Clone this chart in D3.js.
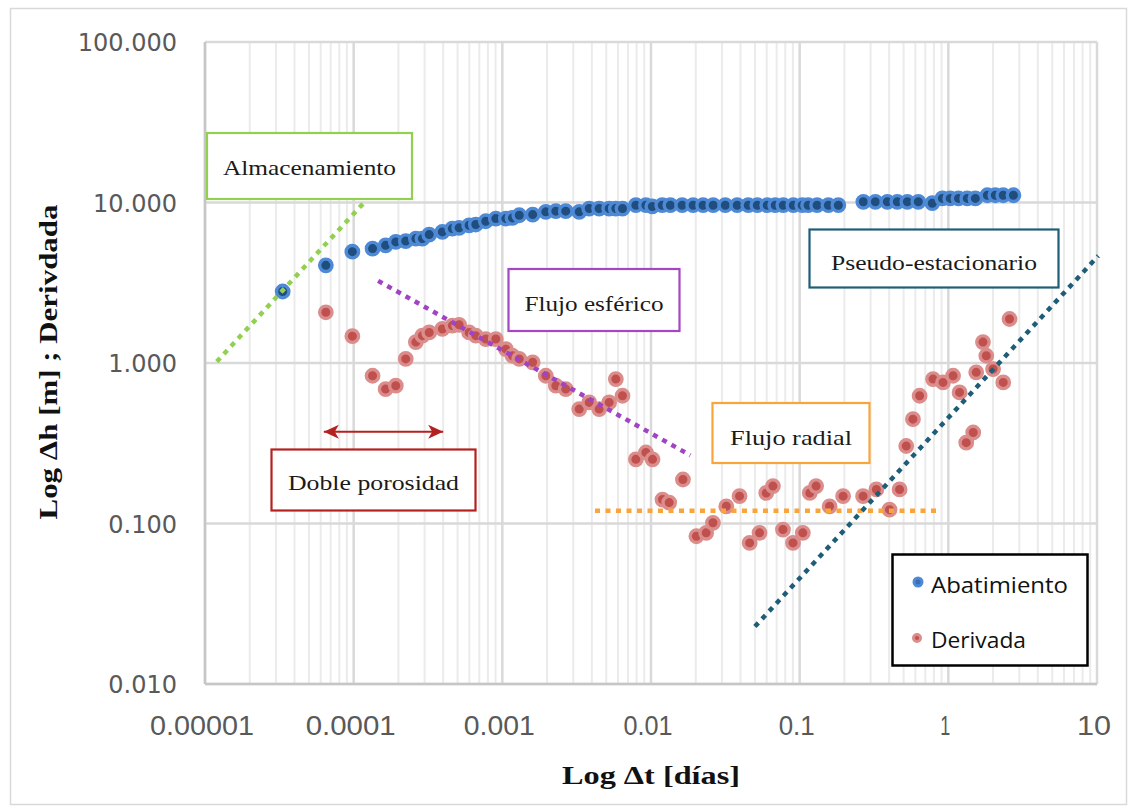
<!DOCTYPE html>
<html><head><meta charset="utf-8">
<script src="https://cdn.jsdelivr.net/npm/d3@7"></script>
<style>html,body{margin:0;padding:0;background:#fff;}svg{display:block;}</style>
</head><body><div id="chart"></div>
<script>
// ---------- data ----------
const xTickValues = [1e-5, 1e-4, 1e-3, 1e-2, 1e-1, 1, 10];
const xTickLabels = ["0.00001", "0.0001", "0.001", "0.01", "0.1", "1", "10"];
const yTickValues = [0.01, 0.1, 1, 10, 100];
const yTickLabels = ["0.010", "0.100", "1.000", "10.000", "100.000"];

const abatT = [3.33e-5, 6.5e-5, 9.8e-5, 1.34e-4, 1.64e-4, 1.92e-4, 2.24e-4, 2.62e-4, 2.90e-4, 3.22e-4,
  3.95e-4, 4.61e-4, 5.12e-4, 5.98e-4, 6.63e-4, 7.74e-4, 9.04e-4, 1.056e-3, 1.17e-3, 1.30e-3,
  1.60e-3, 1.96e-3, 2.29e-3, 2.67e-3, 3.29e-3, 3.84e-3, 4.48e-3, 5.23e-3, 5.80e-3, 6.43e-3,
  7.91e-3, 9.24e-3, 0.0102, 0.0119, 0.0135, 0.0162, 0.0192, 0.0224, 0.0262, 0.0316,
  0.0380, 0.0451, 0.0519, 0.0605, 0.0685, 0.0776, 0.0906, 0.104, 0.114, 0.131,
  0.156, 0.182, 0.268, 0.323, 0.389, 0.454, 0.530, 0.628, 0.780, 0.912,
  1.03, 1.17, 1.34, 1.52, 1.83, 2.07, 2.34, 2.74];
const abatH = [2.79, 4.06, 4.94, 5.16, 5.41, 5.68, 5.75, 5.96, 5.96, 6.31,
  6.56, 6.88, 6.95, 7.21, 7.29, 7.64, 7.94, 7.94, 8.02, 8.33,
  8.41, 8.75, 8.83, 8.83, 8.75, 9.17, 9.17, 9.17, 9.17, 9.17,
  9.62, 9.62, 9.45, 9.62, 9.62, 9.62, 9.62, 9.62, 9.62, 9.62,
  9.62, 9.62, 9.62, 9.62, 9.62, 9.62, 9.62, 9.62, 9.62, 9.62,
  9.62, 9.62, 10.1, 10.1, 10.1, 10.1, 10.1, 10.1, 9.9, 10.6,
  10.6, 10.6, 10.6, 10.6, 11.1, 11.1, 11.1, 11.1];

const derivT = [6.5e-5, 9.8e-5, 1.34e-4, 1.64e-4, 1.92e-4, 2.24e-4, 2.62e-4, 2.90e-4, 3.22e-4, 3.95e-4,
  4.61e-4, 5.12e-4, 5.98e-4, 6.63e-4, 7.74e-4, 9.04e-4, 1.056e-3, 1.17e-3, 1.30e-3, 1.60e-3,
  1.96e-3, 2.29e-3, 2.67e-3, 3.29e-3, 3.84e-3, 4.48e-3, 5.23e-3, 5.80e-3, 6.43e-3, 7.91e-3,
  9.24e-3, 0.01024, 0.01195, 0.01325, 0.0164, 0.0202, 0.0235, 0.0261, 0.0321, 0.0394,
  0.0461, 0.0537, 0.0596, 0.0661, 0.0772, 0.0902, 0.105, 0.117, 0.129, 0.159,
  0.196, 0.267, 0.328, 0.402, 0.470, 0.521, 0.578, 0.641, 0.789, 0.921,
  1.076, 1.19, 1.32, 1.47, 1.54, 1.71, 1.80, 2.00, 2.34, 2.58];
const derivV = [2.07, 1.47, 0.833, 0.688, 0.722, 1.06, 1.35, 1.48, 1.55, 1.63,
  1.71, 1.73, 1.55, 1.48, 1.41, 1.41, 1.22, 1.11, 1.06, 1.01,
  0.833, 0.722, 0.688, 0.516, 0.568, 0.516, 0.568, 0.794, 0.625, 0.251,
  0.277, 0.251, 0.141, 0.135, 0.188, 0.0833, 0.0875, 0.101, 0.128, 0.148,
  0.0757, 0.0875, 0.155, 0.171, 0.0917, 0.0757, 0.0875, 0.155, 0.171, 0.128,
  0.148, 0.148, 0.163, 0.122, 0.163, 0.304, 0.447, 0.625, 0.794, 0.757,
  0.833, 0.656, 0.319, 0.369, 0.875, 1.35, 1.11, 0.917, 0.757, 1.88];

// flow-regime guide lines (t, value pairs)
const storageLine = [[1.2e-5, 1.02], [1.2e-4, 10.2]];
const sphericalLine = [[1.46e-4, 3.25], [0.0184, 0.266]];
const radialLine = [[0.0042, 0.12], [0.88, 0.12]];
const pseudoLine = [[0.05, 0.0228], [10.2, 4.65]];
const doubleArrow = [[6.3e-5, 0.373], [4.0e-4, 0.373]];

const seriesNames = ["Abatimiento", "Derivada"];
const xTitle = "Log \u0394t  [días]";
const yTitle = "Log \u0394h [m] ; Derivdada";

// ---------- layout ----------
const W = 1134, H = 807;
const svg = d3.select("#chart").append("svg").attr("width", W).attr("height", H);
svg.append("rect").attr("width", W).attr("height", H).attr("fill", "#fff");
svg.append("rect").attr("x", 10.5).attr("y", 8.5).attr("width", 1116).attr("height", 796)
  .attr("fill", "none").attr("stroke", "#d9d9d9").attr("stroke-width", 1.5);

const x = d3.scaleLog().domain([1e-5, 10]).range([205, 1097]);
const y = d3.scaleLog().domain([0.01, 100]).range([684, 42]);

// minor vertical gridlines
const minorX = [];
for (let e = -5; e < 1; e++) for (let k = 2; k <= 9; k++) minorX.push(k * Math.pow(10, e));
const grid = svg.append("g");
grid.selectAll("line.minx").data(minorX).join("line")
  .attr("x1", d => x(d)).attr("x2", d => x(d)).attr("y1", y(100)).attr("y2", y(0.01))
  .attr("stroke", "#ebebeb").attr("stroke-width", 2);
grid.selectAll("line.majx").data(xTickValues).join("line")
  .attr("x1", d => x(d)).attr("x2", d => x(d)).attr("y1", y(100)).attr("y2", y(0.01))
  .attr("stroke", "#d9d9d9").attr("stroke-width", 2.5);
grid.selectAll("line.majy").data(yTickValues).join("line")
  .attr("x1", x(1e-5)).attr("x2", x(10)).attr("y1", d => y(d)).attr("y2", d => y(d))
  .attr("stroke", "#d9d9d9").attr("stroke-width", 2.5);
// axis lines
svg.append("line").attr("x1", x(1e-5)).attr("x2", x(1e-5)).attr("y1", y(100)).attr("y2", y(0.01))
  .attr("stroke", "#c6c6c6").attr("stroke-width", 2.5);
svg.append("line").attr("x1", x(1e-5)).attr("x2", x(10)).attr("y1", y(0.01)).attr("y2", y(0.01))
  .attr("stroke", "#c6c6c6").attr("stroke-width", 2.5);

// tick labels
const xLabW = [104, 90, 71, 49, 36, 10, 34];
svg.append("g").selectAll("text").data(xTickValues).join("text")
  .attr("x", d => x(d) - 3).attr("y", 735).attr("text-anchor", "middle")
  .attr("font-family", "'Liberation Sans Narrow','Liberation Sans',sans-serif").attr("font-size", 27)
  .attr("fill", "#595959")
  .attr("textLength", (d, i) => xLabW[i]).attr("lengthAdjust", "spacingAndGlyphs")
  .text((d, i) => xTickLabels[i]);
svg.append("g").selectAll("text").data(yTickValues).join("text")
  .attr("x", 177).attr("y", d => y(d) + 9).attr("text-anchor", "end")
  .attr("font-family", "'DejaVu Sans',sans-serif").attr("font-size", 24)
  .attr("fill", "#595959")
  .text((d, i) => yTickLabels[i]);

// axis titles
svg.append("text").attr("x", 651).attr("y", 784).attr("text-anchor", "middle")
  .attr("font-family", "'Liberation Serif',serif").attr("font-weight", "bold").attr("font-size", 26)
  .attr("fill", "#111").attr("textLength", 178).attr("lengthAdjust", "spacingAndGlyphs")
  .text(xTitle);
svg.append("text").attr("transform", "translate(57,362) rotate(-90)").attr("text-anchor", "middle")
  .attr("font-family", "'Liberation Serif',serif").attr("font-weight", "bold").attr("font-size", 26)
  .attr("fill", "#111").attr("textLength", 315).attr("lengthAdjust", "spacingAndGlyphs")
  .text(yTitle);

// series points
const abat = abatT.map((t, i) => ({ t, v: abatH[i] }));
const deriv = derivT.map((t, i) => ({ t, v: derivV[i] }));
svg.append("g").selectAll("circle").data(deriv).join("circle")
  .attr("cx", d => x(d.t)).attr("cy", d => y(d.v)).attr("r", 6.2)
  .attr("fill", "#c0504d").attr("stroke", "#da8d8b").attr("stroke-width", 3.4);
svg.append("g").selectAll("circle").data(abat).join("circle")
  .attr("cx", d => x(d.t)).attr("cy", d => y(d.v)).attr("r", 6.2)
  .attr("fill", "#1f4d7e").attr("stroke", "#4e89d6").attr("stroke-width", 3.4);

// guide lines (drawn over the points)
const lineGen = d3.line().x(d => x(d[0])).y(d => y(d[1]));
function guide(data, color) {
  svg.append("path").attr("d", lineGen(data)).attr("fill", "none")
    .attr("stroke", color).attr("stroke-width", 4.5).attr("stroke-dasharray", "5,5.5");
}
guide(storageLine, "#92d050");
guide(sphericalLine, "#a043c4");
guide(radialLine, "#f9a53b");
guide(pseudoLine, "#1d5d78");

// double arrow
const arrowColor = "#b3221e";
svg.append("path").attr("d", lineGen(doubleArrow)).attr("stroke", arrowColor).attr("stroke-width", 2).attr("fill", "none");
(function () {
  const ax0 = x(doubleArrow[0][0]), ax1 = x(doubleArrow[1][0]), ay = y(doubleArrow[0][1]);
  svg.append("path").attr("fill", arrowColor)
    .attr("d", `M${ax0},${ay} L${ax0 + 15},${ay - 7} L${ax0 + 11},${ay} L${ax0 + 15},${ay + 7} Z`);
  svg.append("path").attr("fill", arrowColor)
    .attr("d", `M${ax1},${ay} L${ax1 - 15},${ay - 7} L${ax1 - 11},${ay} L${ax1 - 15},${ay + 7} Z`);
})();

// annotation boxes
const boxes = [
  { label: "Almacenamiento", x: 207, y: 133, w: 205, h: 66, color: "#92d050", tw: 173, by: 175 },
  { label: "Flujo esférico", x: 508.5, y: 269, w: 171, h: 62, color: "#a347c4", tw: 139, by: 311 },
  { label: "Pseudo-estacionario", x: 809.5, y: 229.5, w: 249, h: 58, color: "#1f5e79", tw: 206, by: 270 },
  { label: "Flujo radial", x: 712.5, y: 403, w: 157, h: 60, color: "#f9a53b", tw: 122, by: 445 },
  { label: "Doble porosidad", x: 271.5, y: 449.5, w: 204, h: 61, color: "#b3221e", tw: 171, by: 490 }
];
const bg = svg.append("g").selectAll("g").data(boxes).join("g");
bg.append("rect").attr("x", d => d.x).attr("y", d => d.y).attr("width", d => d.w).attr("height", d => d.h)
  .attr("fill", "#fff").attr("stroke", d => d.color).attr("stroke-width", 2.2);
bg.append("text").attr("x", d => d.x + d.w / 2).attr("y", d => d.by).attr("text-anchor", "middle")
  .attr("font-family", "'Liberation Serif',serif").attr("font-size", 22).attr("fill", "#1a1a1a")
  .attr("textLength", d => d.tw).attr("lengthAdjust", "spacingAndGlyphs")
  .text(d => d.label);

// legend
const lg = svg.append("g");
lg.append("rect").attr("x", 892.5).attr("y", 554.5).attr("width", 195).attr("height", 111)
  .attr("fill", "#fff").attr("stroke", "#000").attr("stroke-width", 2.5);
lg.append("circle").attr("cx", 918).attr("cy", 582).attr("r", 4).attr("fill", "#3a6fb5").attr("stroke", "#4e89d6").attr("stroke-width", 3);
lg.append("circle").attr("cx", 917).attr("cy", 638).attr("r", 3.5).attr("fill", "#c0504d").attr("stroke", "#da8d8b").attr("stroke-width", 3);
lg.append("text").attr("x", 931).attr("y", 593).attr("font-family", "'Open Sans',sans-serif").attr("font-size", 21)
  .attr("fill", "#111").attr("textLength", 137).attr("lengthAdjust", "spacingAndGlyphs").text(seriesNames[0]);
lg.append("text").attr("x", 931).attr("y", 648).attr("font-family", "'Open Sans',sans-serif").attr("font-size", 21)
  .attr("fill", "#111").attr("textLength", 95).attr("lengthAdjust", "spacingAndGlyphs").text(seriesNames[1]);
</script></body></html>
